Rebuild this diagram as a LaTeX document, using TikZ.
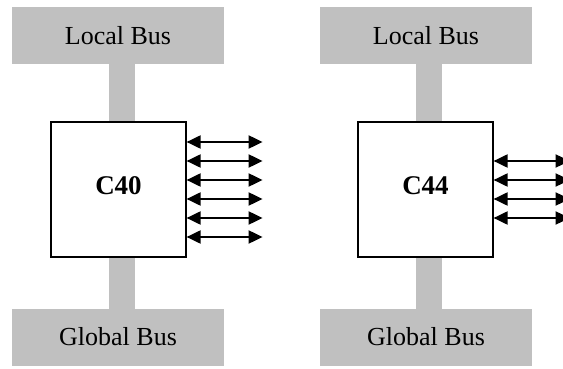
\documentclass[tikz,border=0pt]{standalone}
\usepackage{fontspec}
\setmainfont{Liberation Serif}
\usetikzlibrary{arrows.meta}
\definecolor{busgray}{HTML}{C0C0C0}
\begin{document}
\begin{tikzpicture}[x=1pt,y=-1pt,
  bus/.style={fill=busgray, minimum width=212pt, minimum height=57pt, inner sep=0pt,
    font=\fontsize{26}{30}\selectfont},
  stem/.style={fill=busgray},
  chip/.style={draw, line width=1.2pt, fill=white, minimum width=135pt, minimum height=135pt,
    inner sep=0pt, font=\fontsize{27}{30}\selectfont\bfseries},
  link/.style={{Triangle[length=14pt,width=13pt]}-{Triangle[length=14pt,width=13pt]}, line width=2pt}]
\useasboundingbox (0,0) rectangle (563,369);
\clip (0,0) rectangle (563,369);

% left processor: C40
\node[bus] (lb1) at (118,35.5) {Local Bus};
\node[bus] (gb1) at (118,337) {Global Bus};
\fill[stem] (109,64) rectangle (135,314);
\node[chip] (c40) at (118.5,189.5) {\raisebox{7pt}{C40}};
\foreach \d in {47.5,28.5,9.5,-9.5,-28.5,-47.5}
  \draw[link] ([yshift=\d pt]c40.east) -- ++(76,0);

% right processor: C44
\node[bus] (lb2) at (426,35.5) {Local Bus};
\node[bus] (gb2) at (426,337) {Global Bus};
\fill[stem] (416,64) rectangle (442,314);
\node[chip] (c44) at (425.5,189.5) {\raisebox{7pt}{C44}};
\foreach \d in {28.5,9.5,-9.5,-28.5}
  \draw[link] ([yshift=\d pt]c44.east) -- ++(76,0);
\end{tikzpicture}
\end{document}
